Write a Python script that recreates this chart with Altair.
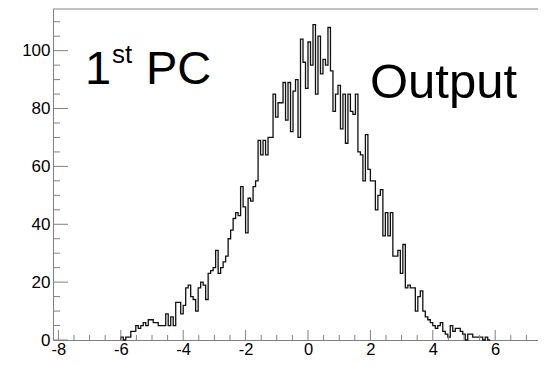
import altair as alt
import pandas as pd

# ---- data ----
hist_start = -6.0
bin_width = 0.08
counts = [
    1, 0, 1, 1, 3, 3, 5, 4, 5, 6,
    5, 7, 7, 6, 6, 5, 5, 5, 9, 5,
    8, 5, 13, 13, 9, 12, 18, 19, 15, 14,
    10, 18, 20, 19, 14, 23, 24, 25, 31, 23,
    25, 27, 29, 35, 38, 42, 44, 43, 53, 46,
    37, 49, 48, 53, 55, 69, 64, 69, 64, 70,
    70, 85, 77, 82, 82, 89, 76, 89, 72, 86,
    90, 70, 104, 96, 87, 103, 95, 109, 85, 105,
    92, 97, 95, 108, 93, 79, 85, 88, 73, 85,
    68, 85, 79, 78, 85, 65, 64, 55, 71, 59,
    55, 55, 45, 50, 52, 36, 44, 36, 44, 29,
    29, 31, 23, 33, 18, 19, 18, 18, 10, 15,
    17, 10, 8, 7, 6, 5, 4, 5, 6, 3,
    2, 1, 5, 3, 4, 4, 3, 2, 0, 2,
    2, 1, 1, 1, 1, 0, 1, 0,
]
x_major = [-8, -6, -4, -2, 0, 2, 4, 6]
x_minor = [v / 2 for v in range(-16, 15) if v % 4 != 0]
y_major = [0, 20, 40, 60, 80, 100]
y_minor = [v for v in range(5, 115, 5) if v % 20 != 0]
x_domain = [-8.173, 7.372]
y_domain = [0, 114.4]

W, H = 485, 331
FRAME = "#808080"
FONT = "Liberation Sans"

# step outline points
rows = [{"i": 0, "x": hist_start, "y": 0}]
for k, c in enumerate(counts):
    rows.append({"i": k + 1, "x": hist_start + k * bin_width, "y": c})
end_edge = hist_start + len(counts) * bin_width
rows.append({"i": len(counts) + 1, "x": end_edge, "y": counts[-1]})
rows.append({"i": len(counts) + 2, "x": end_edge, "y": 0})
hist_df = pd.DataFrame(rows)

xs = alt.Scale(domain=x_domain, nice=False, zero=False)
ys = alt.Scale(domain=y_domain, nice=False, zero=False)

hyphen = "datum.value < 0 ? '-' + format(-datum.value, 'd') : format(datum.value, 'd')"
x_axis = alt.Axis(
    values=x_major, labelExpr=hyphen, title=None, grid=False,
    ticks=False, tickSize=0, labelPadding=1, labelFontSize=16.5,
    labelFont=FONT, labelColor="#000000", domainColor=FRAME,
    labelFlush=False, labelOverlap=False)
y_axis = alt.Axis(
    values=y_major, title=None, grid=False, ticks=False, tickSize=0,
    labelPadding=3, labelFontSize=17, labelFont=FONT,
    labelColor="#000000", domainColor=FRAME, labelOverlap=False)

hist = alt.Chart(hist_df).mark_line(
    interpolate="step-after", color="#111111", strokeWidth=1.3
).encode(
    x=alt.X("x:Q", scale=xs, axis=x_axis),
    y=alt.Y("y:Q", scale=ys, axis=y_axis),
    order="i:Q",
)

def xticks(vals, length):
    df = pd.DataFrame({"x": vals})
    return alt.Chart(df).mark_rule(color=FRAME, strokeWidth=1).encode(
        x=alt.X("x:Q", scale=xs, axis=x_axis),
        y=alt.value(H), y2=alt.value(H - length))

def yticks(vals, length):
    df = pd.DataFrame({"y": vals})
    return alt.Chart(df).mark_rule(color=FRAME, strokeWidth=1).encode(
        y=alt.Y("y:Q", scale=ys, axis=y_axis),
        x=alt.value(0), x2=alt.value(length))

top_line = alt.Chart(pd.DataFrame({"a": [0]})).mark_rule(
    color=FRAME, strokeWidth=1).encode(
    x=alt.value(0), x2=alt.value(W), y=alt.value(0))

def label(txt, px, py, size):
    return alt.Chart(pd.DataFrame({"a": [0]})).mark_text(
        text=txt, align="left", baseline="alphabetic", font=FONT,
        fontSize=size, color="#000000").encode(
        x=alt.value(px), y=alt.value(py))

chart = alt.layer(
    hist,
    xticks(x_major, 10), xticks(x_minor, 5),
    yticks(y_major, 15), yticks(y_minor, 7),
    top_line,
    label("1", 32, 75, 47),
    label("st", 59, 54, 26),
    label("PC", 93, 75, 47),
    label("Output", 317, 89, 49),
).properties(
    width=W, height=H,
    autosize=alt.AutoSizeParams(type="none"),
    padding={"left": 45, "top": 1, "right": 0, "bottom": 18},
).configure_view(strokeWidth=0)

chart.save("out.html", embed_options={"renderer": "svg", "actions": False})
